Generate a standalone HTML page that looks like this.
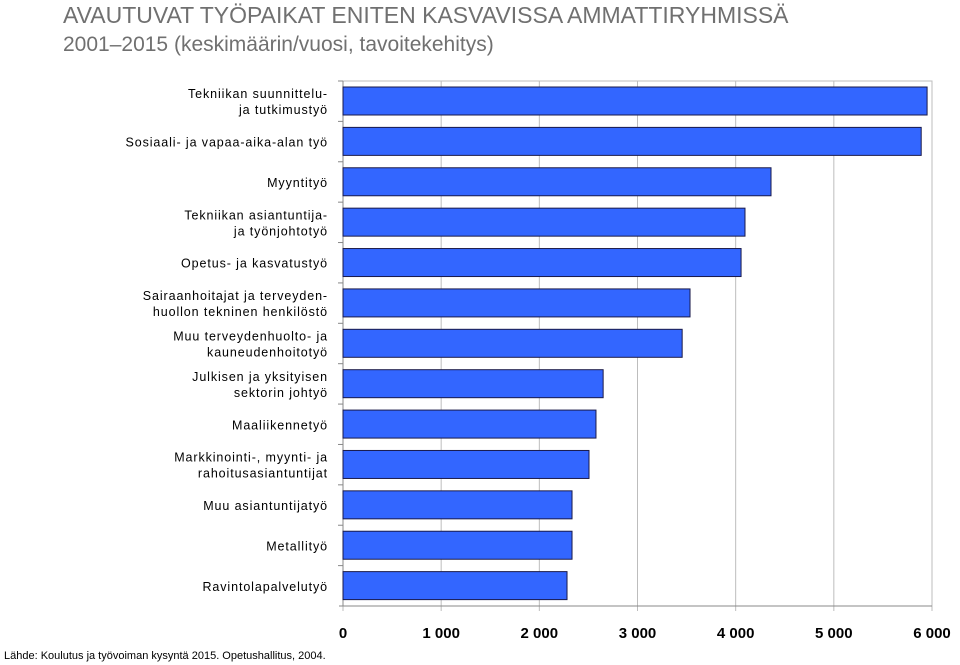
<!DOCTYPE html>
<html><head><meta charset="utf-8"><style>
body{margin:0;background:#fff;font-family:"Liberation Sans",sans-serif;}
#wrap{position:relative;width:960px;height:665px;overflow:hidden;}
.t{position:absolute;left:63px;color:#707070;font-size:23px;white-space:nowrap;}
.src{position:absolute;left:4px;top:650px;font-size:11px;color:#000;}
</style></head><body>
<div id="wrap">
<div class="t" style="top:2px">AVAUTUVAT TYÖPAIKAT ENITEN KASVAVISSA AMMATTIRYHMISSÄ</div>
<div class="t" style="top:33px;font-size:21px">2001–2015 (keskimäärin/vuosi, tavoitekehitys)</div>
<svg id="svg" width="960" height="665" style="position:absolute;left:0;top:0"></svg>
<div class="src">Lähde: Koulutus ja työvoiman kysyntä 2015. Opetushallitus, 2004.</div>
</div>
<script>
const categories=[["Tekniikan suunnittelu-","ja tutkimustyö"],["Sosiaali- ja vapaa-aika-alan työ"],["Myyntityö"],["Tekniikan asiantuntija-","ja työnjohtotyö"],["Opetus- ja kasvatustyö"],["Sairaanhoitajat ja terveyden-","huollon tekninen henkilöstö"],["Muu terveydenhuolto- ja","kauneudenhoitotyö"],["Julkisen ja yksityisen","sektorin johtyö"],["Maaliikennetyö"],["Markkinointi-, myynti- ja","rahoitusasiantuntijat"],["Muu asiantuntijatyö"],["Metallityö"],["Ravintolapalvelutyö"]];
const values=[5950,5890,4360,4095,4055,3535,3455,2650,2577,2506,2333,2333,2282];
const ticks=[0,1000,2000,3000,4000,5000,6000];
const tickLabels=["0","1 000","2 000","3 000","4 000","5 000","6 000"];
const NS="http://www.w3.org/2000/svg",svg=document.getElementById("svg");
const L=343,R=932,T=81,B=606,max=6000;
const x=v=>L+v/max*(R-L);
const band=(B-T)/categories.length;
const y=i=>T+i*band;
function mk(t,a){const e=document.createElementNS(NS,t);for(const k in a)e.setAttribute(k,a[k]);svg.appendChild(e);return e;}
ticks.forEach((v,i)=>{
 const g=mk("line",{x1:x(v),x2:x(v),y1:T,y2:B+5,stroke:"#bdbdbd","stroke-width":1});
 
 
 const t=mk("text",{x:x(v),y:638,"text-anchor":"middle","font-size":15,"font-weight":"bold","font-family":"Liberation Sans, sans-serif"});
 t.textContent=tickLabels[i];
 
 
});
const fr=mk("rect",{x:L,y:T,width:R-L,height:B-T,fill:"none",stroke:"#bdbdbd"});


const ax=mk("line",{x1:L-4,x2:R,y1:B,y2:B,stroke:"#888"});


mk("line",{x1:L,x2:L,y1:T,y2:B,stroke:"#888"});
categories.forEach((c,i)=>{
 const r=mk("rect",{x:x(0),y:y(i)+6,width:x(values[i])-x(0),height:28,fill:"#3366ff",stroke:"#1a1a4a","stroke-width":1});
 
 
 const tk=mk("line",{x1:L-5,x2:L,y1:y(i),y2:y(i),stroke:"#888"});
 
 
 const cy=y(i)+band/2;
 c.forEach((line,j)=>{
  const t=mk("text",{x:328,y:cy+5+(j-(c.length-1)/2)*16,"text-anchor":"end","font-size":12.5,"letter-spacing":"0.9","font-family":"Liberation Sans, sans-serif",fill:"#000"});
  t.textContent=line;
  
  
 });
});
</script>
</body></html>
